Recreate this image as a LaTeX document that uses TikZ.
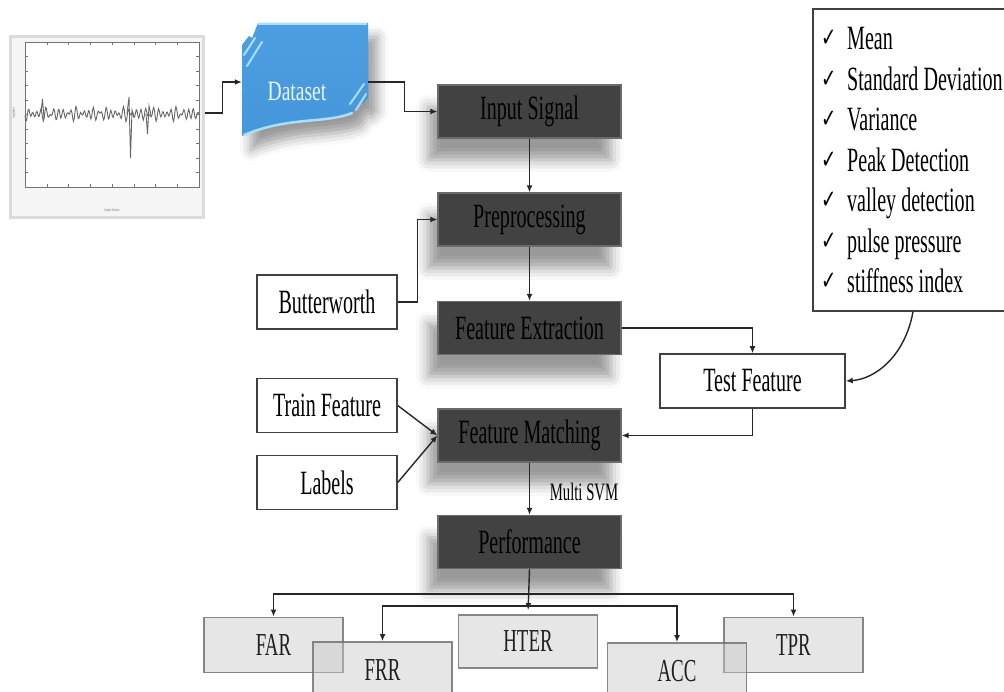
\documentclass[tikz,border=0pt]{standalone}
\usepackage{fontspec}
\setmainfont{Liberation Serif}[FakeStretch=0.59]
\newfontfamily\dsfont{Liberation Serif}[FakeStretch=0.7]
\newfontfamily\ckfont{DejaVu Sans}[FakeStretch=0.7]
\usetikzlibrary{arrows.meta,shadows.blur}
\definecolor{boxgray}{HTML}{424242}
\definecolor{dsTop}{HTML}{4C9FE0}
\definecolor{dsMid}{HTML}{5BAEEA}
\definecolor{dsBot}{HTML}{4596DA}
\definecolor{dsLine}{HTML}{A8E0FC}
\begin{document}
\begin{tikzpicture}[x=1pt,y=-1pt,
  conn/.style={draw=black!85, line width=1.4pt, -{Latex[length=7pt,width=6pt]}},
  darkbox/.style={rectangle, draw=black!58, line width=1.3pt, fill=boxgray,
    minimum width=183pt, minimum height=53pt, inner sep=0pt,
    font=\fontsize{34}{40}\selectfont, text=black,
    blur shadow={shadow xshift=-10pt, shadow yshift=-22pt, shadow blur radius=12pt, shadow opacity=40}},
  wbox/.style={rectangle, draw=black!75, line width=1.5pt, fill=white,
    minimum width=140pt, minimum height=54pt, inner sep=0pt,
    font=\fontsize{34}{40}\selectfont},
  lbox/.style={rectangle, draw=black!55, line width=1.8pt, fill=black!22, fill opacity=0.45,
    draw opacity=0.85, text opacity=1, minimum width=139pt, minimum height=55pt, inner sep=0pt,
    font=\fontsize{32}{38}\selectfont, text=black!88},
  itemtext/.style={anchor=base west, inner sep=0pt, font=\fontsize{34}{40}\selectfont},
  checkmk/.style={anchor=base west, inner sep=0pt, font=\ckfont\fontsize{26}{30}\selectfont},
  tiny/.style={font=\fontsize{4}{5}\selectfont, text=black!55, inner sep=0pt}]
\useasboundingbox (0,0) rectangle (1004,692);

% signal picture
\node[rectangle, fill=black!4, draw=black!14, line width=3pt, minimum width=193pt, minimum height=181pt] (sig) at (106.5,127.5) {};
\draw[black!55, line width=0.6pt, fill=white] (25,42) rectangle (199,187);
\foreach \i in {0,...,8} {
  \draw[black!55, line width=0.5pt] (25+21.75*\i,187) -- (25+21.75*\i,184);
  \draw[black!55, line width=0.5pt] (25+21.75*\i,42) -- (25+21.75*\i,45);
}
\foreach \i in {0,...,10} {
  \draw[black!55, line width=0.5pt] (25,42+14.5*\i) -- (28,42+14.5*\i);
  \draw[black!55, line width=0.5pt] (199,42+14.5*\i) -- (196,42+14.5*\i);
}
\draw[black!60, line width=0.9pt] plot[domain=0:174, samples=220, variable=\t]
  ({\t+25}, {114 + 3.6*sin(\t*83) + 2.6*sin(\t*61+30) + 1.8*sin(\t*47)});
\draw[black!60, line width=0.9pt] (127,114) -- (129,97) -- (130.5,158) -- (132,110) -- (134,116);
\draw[black!60, line width=0.9pt] (41,113) -- (42.5,99) -- (44,118);
\draw[black!60, line width=0.9pt] (146,114) -- (147.5,134) -- (149,106) -- (151,115);
\node[tiny] (xlab) at (112,211) {Sample Number};
\node[tiny, rotate=90] (ylab) at (14,113) {Amplitude};

% dataset shape
\shade[top color=dsTop, middle color=dsMid, bottom color=dsBot,
  blur shadow={shadow xshift=9pt, shadow yshift=-14pt, shadow blur radius=11pt, shadow opacity=40}]
  (242,45) -- (249,36) -- (252,38) -- (258,23) -- (368,23) -- (368,98) -- (362,104) -- (360,102)
  -- (352,113) .. controls (325,124) and (290,116) .. (242,136) -- cycle;
\draw[dsLine, line width=2.5pt, line cap=round] (352,113) .. controls (325,124) and (290,116) .. (244,135);
\draw[dsLine, line width=1.5pt] (258,24) -- (367,24);
\draw[dsLine, line width=2pt, line cap=round] (244,55) -- (255,38);
\draw[dsLine, line width=2pt, line cap=round] (247,66) -- (262,42);
\draw[dsLine, line width=2pt, line cap=round] (356,110) -- (366,94);
\draw[dsLine, line width=2pt, line cap=round] (350,104) -- (364,84);
\node[inner sep=0pt, minimum width=126pt, minimum height=118pt] (ds) at (305,82) {};
\node[font=\dsfont\fontsize{28}{32}\selectfont, text=white!90!dsTop, inner sep=0pt] (dstext) at (297,91) {Dataset};

% main boxes
\node[darkbox] (input) at (529.5,111.5) {Input Signal};
\node[darkbox] (pre) at (529.5,219.5) {Preprocessing};
\node[darkbox] (fe) at (529.5,328) {Feature Extraction};
\node[darkbox] (fm) at (529.5,435.5) {Feature Matching};
\node[darkbox] (perf) at (529.5,542) {Performance};

\node[wbox] (bw) at (327,302) {Butterworth};
\node[wbox] (train) at (327,405.5) {Train Feature};
\node[wbox] (labels) at (327,482.5) {Labels};
\node[wbox, minimum width=185pt] (test) at (752.5,381) {Test Feature};

% checklist
\node[rectangle, draw=black!75, line width=1.5pt, fill=white, minimum width=200pt, minimum height=302pt] (list) at (913,160) {};
\foreach \b/\t [count=\i] in {50/Mean, 90.5/Standard Deviation, 131/Variance, 171.5/Peak Detection,
   212/valley detection, 252.5/pulse pressure, 293/stiffness index} {
  \node[checkmk] (ck\i) at (821,\b-3) {✓};
  \node[itemtext] (it\i) at (847,\b) {\t};
}

% connectors
\draw[conn] ([yshift=14.5pt]sig.east) -- ++(18,0) |- (ds.west);
\draw[conn] (ds.east) -- ++(36,0) |- (input.west);
\draw[conn] (input.south) -- (pre.north);
\draw[conn] (pre.south) -- (fe.north);
\draw[conn] (bw.east) -- ++(20,0) |- (pre.west);
\draw[conn] (fe.east) -| (test.north);
\draw[conn] (test.south) |- (fm.east);
\draw[conn] (train.east) -- (fm.west);
\draw[conn] (labels.east) -- (fm.west);
\draw[conn] (fm.south) -- (perf.north);
\node[font=\fontsize{25}{30}\selectfont, inner sep=0pt] (svm) at (584,492) {Multi SVM};
\draw[conn] (list.south) .. controls +(-8,44) and +(30,-2) .. (test.east);

% bottom boxes
\node[lbox] (far) at (273.5,645) {FAR};
\node[lbox, minimum height=56pt] (frr) at (382.5,670) {FRR};
\node[lbox, minimum height=53pt] (hter) at (528,641.5) {HTER};
\node[lbox] (tpr) at (793.5,645) {TPR};
\node[lbox, minimum height=56pt] (acc) at (677,671) {ACC};

\coordinate (bus1) at (529.5,594);
\coordinate (bus2) at (529.5,606);
\draw[conn, shorten >=4pt] (perf.south) -- (hter.north);
\draw[conn] (bus1) -| (far.north);
\draw[conn] (bus1) -| (tpr.north);
\draw[conn] (bus2) -| (frr.north);
\draw[conn] (bus2) -| (acc.north);
\end{tikzpicture}
\end{document}
